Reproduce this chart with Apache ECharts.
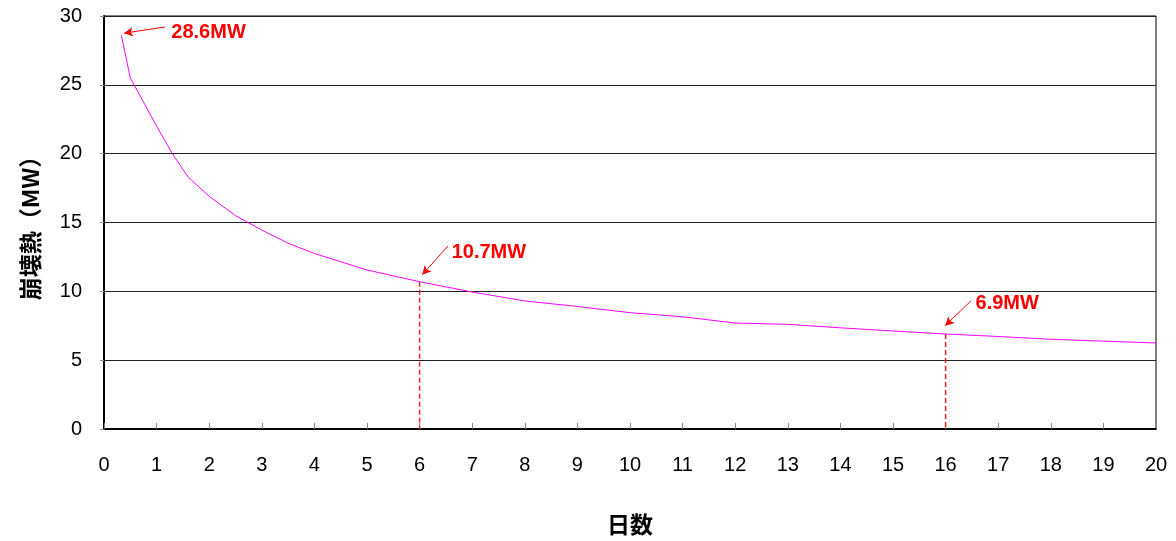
<!DOCTYPE html>
<html><head><meta charset="utf-8">
<script src="https://cdn.jsdelivr.net/npm/echarts@6/dist/echarts.min.js"></script>
<style>html,body{margin:0;padding:0;background:#fff}#c{width:1176px;height:541px}</style>
</head><body><div id="c"></div>
<script>
const days = [0.33, 0.5, 1, 1.3, 1.6, 2, 2.5, 3, 3.5, 4, 5, 6, 7, 8, 9, 10, 11, 12, 13, 14, 15, 16, 17, 18, 19, 20];
const heat = [28.6, 25.5, 22.0, 20.0, 18.3, 16.9, 15.5, 14.45, 13.5, 12.75, 11.55, 10.7, 9.95, 9.3, 8.9, 8.45, 8.15, 7.7, 7.6, 7.35, 7.12, 6.9, 6.72, 6.52, 6.38, 6.25];
const xTicks = [0,1,2,3,4,5,6,7,8,9,10,11,12,13,14,15,16,17,18,19,20];
const yTicks = [0,5,10,15,20,25,30];
const notes = [
  {text:'28.6MW', at:[0.38, 28.75], tail:[1.16, 29.2], label:[1.27, 28.8]},
  {text:'10.7MW', at:[6.05, 11.2], tail:[6.54, 13.3], label:[6.6, 12.85]},
  {text:'6.9MW',  at:[15.99, 7.5], tail:[16.48, 9.3], label:[16.56, 9.1]}
];
const drops = [[6, 10.7], [16, 6.9]];

const font = "'Liberation Sans Narrow','Liberation Sans',Arial,sans-serif";
const red = '#ff0000';
const chart = echarts.init(document.getElementById('c'), null, {renderer:'canvas'});
const dropSeries = drops.map(p => ({
  type:'line', data:[[p[0], p[1]], [p[0], 0]], showSymbol:false, symbol:'none', silent:true, z:2,
  lineStyle:{color:'#ff2020', type:[5,3], width:1.5}
}));
chart.setOption({
  animation:false,
  grid:{left:104, right:20, top:16, bottom:109, show:true, borderColor:'#000', borderWidth:1},
  xAxis:{
    type:'value', min:xTicks[0], max:xTicks[xTicks.length-1], interval:1,
    name:'日数', nameLocation:'middle', nameGap:84,
    nameTextStyle:{fontFamily:"'Noto Sans CJK JP',sans-serif", fontWeight:'bold', fontSize:23, color:'#000'},
    axisLine:{lineStyle:{color:'#000', width:2}},
    axisTick:{inside:true, length:6, lineStyle:{color:'#888'}},
    axisLabel:{margin:26, fontFamily:font, fontSize:20, color:'#000'},
    splitLine:{show:false}
  },
  yAxis:{
    type:'value', min:yTicks[0], max:yTicks[yTicks.length-1], interval:5,
    name:'崩壊熱（MW）', nameLocation:'middle', nameGap:62,
    nameTextStyle:{fontFamily:"'Noto Sans CJK JP',sans-serif", fontWeight:'bold', fontSize:23, color:'#000'},
    axisLine:{show:true, lineStyle:{color:'#000', width:2}},
    axisTick:{show:true, length:4, lineStyle:{color:'#888'}},
    axisLabel:{margin:22, fontFamily:font, fontSize:20, color:'#000'},
    splitLine:{show:true, lineStyle:{color:'#222', width:1}}
  },
  series:[
    {
      type:'line', data:days.map((d,i)=>[d, heat[i]]), showSymbol:false, symbol:'none',
      lineStyle:{color:'#ff00ff', width:1}, z:3
    },
    ...dropSeries,
    {
      type:'line', data:[], silent:true, z:4,
      itemStyle:{color:red}, lineStyle:{color:red},
      markLine:{
        silent:true, symbol:['none','arrow'], symbolSize:[7,9],
        label:{show:false},
        lineStyle:{color:red, type:'solid', width:1},
        data: notes.map(n=>[{coord:n.tail},{coord:n.at}])
      },
      markPoint:{
        silent:true, symbol:'circle', symbolSize:1, itemStyle:{color:'rgba(0,0,0,0)'},
        label:{show:true, position:'right', distance:0, color:red, fontWeight:'bold', fontSize:20, fontFamily:"'Liberation Sans',Arial,sans-serif",
          formatter:p=>p.name},
        data: notes.map(n=>({name:n.text, coord:n.label}))
      }
    }
  ]
});
</script></body></html>
